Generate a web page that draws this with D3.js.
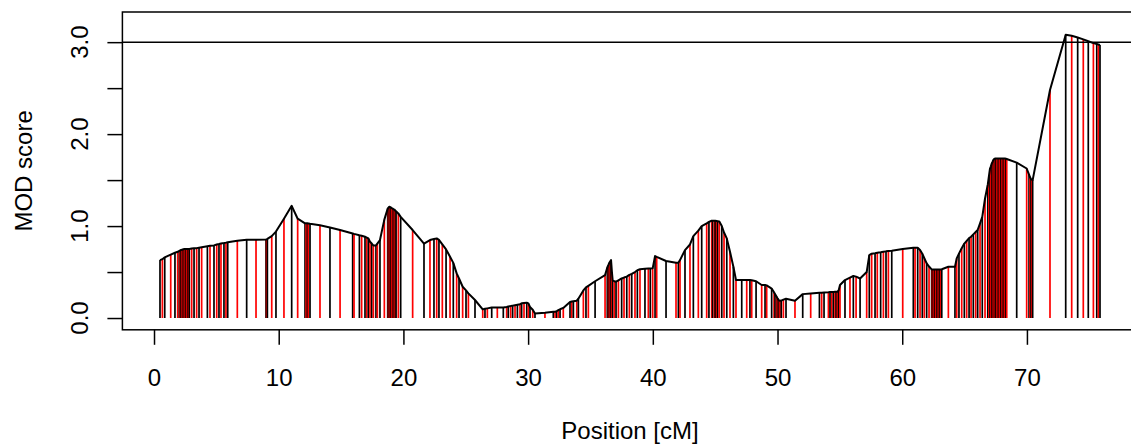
<!DOCTYPE html>
<html>
<head>
<meta charset="utf-8">
<script src="https://cdn.jsdelivr.net/npm/d3@7"></script>
<style>
  html, body { margin: 0; padding: 0; background: #fff; }
  svg { display: block; }
  text { font-family: "Liberation Sans", Arial, Helvetica, sans-serif; fill: #000; }
</style>
</head>
<body>
<svg id="chart" width="1131" height="448"></svg>
<script>
// ---- data ----
const positions = [
  0.48,0.67,0.86,1.34,1.68,1.90,2.03,2.10,2.17,2.25,2.30,2.36,2.43,2.50,2.57,2.63,2.70,2.77,2.83,3.02,3.21,
  3.42,3.61,3.82,4.28,4.49,4.81,5.03,5.21,5.37,5.61,5.77,5.91,6.68,7.43,8.18,8.98,9.03,9.09,9.44,9.78,
  10.42,11.04,11.52,12.11,12.20,12.30,12.38,12.51,13.31,14.11,
  14.92,15.93,16.04,16.47,16.65,16.92,17.06,17.19,17.32,17.46,17.59,17.80,17.91,18.12,18.47,18.74,18.80,18.87,18.95,19.01,
  19.07,19.14,19.20,19.27,19.34,19.41,19.59,19.78,20.74,21.65,22.13,22.45,22.67,22.85,23.12,23.42,23.74,24.00,24.27,24.46,
  24.75,25.02,25.21,25.74,26.36,26.54,26.73,27.08,27.53,28.01,28.28,28.41,28.60,28.76,28.95,29.14,29.35,29.48,29.67,29.89,
  30.02,30.15,
  30.37,30.55,31.35,32.02,32.16,32.29,32.42,32.56,32.82,33.36,33.50,33.63,33.90,34.03,34.43,34.64,34.83,35.37,36.17,36.35,
  36.45,36.51,36.58,36.65,36.72,36.78,36.91,37.05,37.24,37.50,37.69,37.91,38.12,38.31,38.57,38.76,38.97,39.37,39.64,39.80,39.99,
  40.18,40.31,41.06,41.86,42.05,42.18,42.58,42.98,43.25,43.65,43.92,44.32,44.50,44.72,44.80,44.93,45.00,45.12,45.20,45.33,
  45.53,45.71,45.93,46.19,46.46,46.67,47.13,47.53,47.79,47.93,48.28,48.73,49.00,49.13,49.53,49.72,49.80,49.93,50.00,50.07,
  50.13,50.20,50.30,50.47,50.68,51.40,52.02,52.66,53.36,53.54,53.73,54.08,54.21,54.35,54.48,54.61,54.70,54.80,54.90,55.01,
  55.41,55.81,56.08,56.30,56.62,57.15,57.36,57.55,57.82,58.00,58.27,58.49,58.70,58.89,59.16,60.04,
  60.89,61.03,61.24,61.43,61.61,61.77,61.96,62.15,62.36,62.42,62.49,62.56,62.63,62.70,62.77,62.84,62.90,62.97,63.03,63.10,
  63.17,63.70,64.23,64.37,64.55,64.77,64.98,65.17,65.36,65.52,65.70,65.89,66.05,66.24,66.42,66.64,66.86,66.95,67.04,67.11,
  67.18,67.25,67.31,67.38,67.44,67.47,67.51,67.58,67.65,67.71,67.78,67.84,67.91,67.98,68.05,68.11,68.18,68.24,68.31,68.38,69.18,
  69.98,70.17,70.25,70.33,70.40,70.46,71.85,73.11,73.59,74.07,74.52,74.92,75.33,75.60,75.73,75.86
];
const modScores = [
  0.63,0.64,0.66,0.69,0.71,0.72,0.73,0.735,0.74,0.742,0.745,0.748,0.75,0.75,0.75,0.75,0.75,0.75,0.75,0.755,0.76,
  0.76,0.765,0.77,0.78,0.785,0.79,0.80,0.805,0.81,0.815,0.82,0.825,0.84,0.85,0.85,0.855,0.857,0.86,0.89,0.94,
  1.08,1.22,1.08,1.03,1.03,1.03,1.028,1.025,1.01,0.985,
  0.957,0.92,0.915,0.90,0.895,0.884,0.875,0.865,0.83,0.81,0.79,0.79,0.81,0.848,1.07,1.19,1.20,1.21,1.205,1.20,
  1.195,1.19,1.185,1.18,1.17,1.16,1.138,1.10,0.957,0.81,0.848,0.86,0.866,0.85,0.80,0.746,0.667,0.60,0.486,0.43,
  0.34,0.30,0.268,0.196,0.094,0.10,0.105,0.115,0.115,0.115,0.12,0.125,0.13,0.135,0.14,0.145,0.15,0.16,0.163,0.167,
  0.16,0.12,
  0.09,0.05,0.058,0.067,0.069,0.075,0.085,0.095,0.11,0.175,0.18,0.183,0.188,0.21,0.30,0.333,0.35,0.40,0.467,0.55,
  0.58,0.60,0.615,0.63,0.50,0.41,0.40,0.395,0.41,0.43,0.44,0.45,0.47,0.48,0.50,0.52,0.53,0.535,0.538,0.539,0.54,
  0.674,0.665,0.62,0.601,0.601,0.63,0.739,0.80,0.89,0.95,1.0,1.03,1.045,1.058,1.058,1.058,1.058,1.055,1.053,1.05,
  1.0,0.93,0.866,0.72,0.558,0.413,0.413,0.413,0.413,0.41,0.40,0.359,0.36,0.355,0.32,0.28,0.26,0.232,0.215,0.20,
  0.193,0.188,0.19,0.20,0.21,0.188,0.26,0.268,0.275,0.276,0.278,0.28,0.282,0.283,0.284,0.285,0.285,0.286,0.30,0.359,
  0.413,0.44,0.457,0.45,0.43,0.50,0.685,0.70,0.705,0.71,0.715,0.72,0.725,0.728,0.732,0.75,
  0.764,0.764,0.764,0.74,0.70,0.65,0.594,0.56,0.529,0.529,0.529,0.529,0.529,0.529,0.529,0.529,0.529,0.529,0.529,0.529,
  0.53,0.557,0.557,0.648,0.70,0.76,0.81,0.84,0.87,0.884,0.91,0.935,0.957,1.029,1.10,1.30,1.45,1.54,1.626,1.65,
  1.68,1.70,1.72,1.73,1.735,1.735,1.735,1.735,1.735,1.735,1.735,1.735,1.735,1.735,1.735,1.735,1.735,1.735,1.733,1.73,1.69,
  1.626,1.56,1.53,1.51,1.505,1.50,2.48,3.08,3.07,3.05,3.03,3.01,2.99,2.98,2.975,2.97
];
const threshold = 3.0;
const xTicks = [0, 10, 20, 30, 40, 50, 60, 70];
const yTicks = [0, 0.5, 1.0, 1.5, 2.0, 2.5, 3.0];
const yLabelTicks = [0, 1.0, 2.0, 3.0];
const xTitle = "Position [cM]";
const yTitle = "MOD score";
const lineColors = ["#000000", "#ff0000"];

// ---- drawing ----
const svg = d3.select("#chart");
const pts = positions.map((p, i) => ({ x: p, y: modScores[i] }));

const x = d3.scaleLinear().domain([-2.535, 78.875]).range([122.4, 1137.6]);
const y = d3.scaleLinear().domain([-0.128, 3.328]).range([329.8, 12]);

// vertical (type "h") lines
svg.append("g").selectAll("line").data(pts).join("line")
  .attr("x1", d => x(d.x)).attr("x2", d => x(d.x))
  .attr("y1", y(0)).attr("y2", d => y(d.y))
  .attr("stroke", (d, i) => lineColors[i % 2])
  .attr("stroke-width", 1.7);

// connecting curve
svg.append("path").datum(pts)
  .attr("d", d3.line().x(d => x(d.x)).y(d => y(d.y)))
  .attr("fill", "none").attr("stroke", "#000").attr("stroke-width", 2)
  .attr("stroke-linejoin", "round");

// threshold line
svg.append("line")
  .attr("x1", x.range()[0]).attr("x2", x.range()[1])
  .attr("y1", y(threshold)).attr("y2", y(threshold))
  .attr("stroke", "#000").attr("stroke-width", 1.5);

// box
svg.append("rect")
  .attr("x", x.range()[0]).attr("y", y.range()[1])
  .attr("width", x.range()[1] - x.range()[0])
  .attr("height", y.range()[0] - y.range()[1])
  .attr("fill", "none").attr("stroke", "#000").attr("stroke-width", 1.5);

// x axis
const xAxis = svg.append("g").attr("transform", `translate(0,${y.range()[0]})`)
  .call(d3.axisBottom(x).tickValues(xTicks).tickSize(15).tickSizeOuter(0).tickPadding(24)
    .tickFormat(d3.format("d")));
xAxis.select(".domain").remove();
xAxis.selectAll(".tick line").attr("stroke", "#000").attr("stroke-width", 1.5);
xAxis.selectAll(".tick text").attr("font-size", 24).attr("font-family", null);

// y axis
const yAxis = svg.append("g").attr("transform", `translate(${x.range()[0]},0)`)
  .call(d3.axisLeft(y).tickValues(yTicks).tickSize(15).tickSizeOuter(0).tickFormat(""));
yAxis.select(".domain").remove();
yAxis.selectAll(".tick line").attr("stroke", "#000").attr("stroke-width", 1.5);

svg.append("g").selectAll("text").data(yLabelTicks).join("text")
  .attr("transform", d => `translate(88,${y(d)}) rotate(-90)`)
  .attr("text-anchor", "middle")
  .attr("font-size", 24)
  .text(d => d.toFixed(1));

// titles
svg.append("text")
  .attr("x", (x.range()[0] + x.range()[1]) / 2).attr("y", 439)
  .attr("text-anchor", "middle").attr("font-size", 24).text(xTitle);

svg.append("text")
  .attr("transform", `translate(32,${(y.range()[0] + y.range()[1]) / 2}) rotate(-90)`)
  .attr("text-anchor", "middle").attr("font-size", 24).text(yTitle);
</script>
</body>
</html>
